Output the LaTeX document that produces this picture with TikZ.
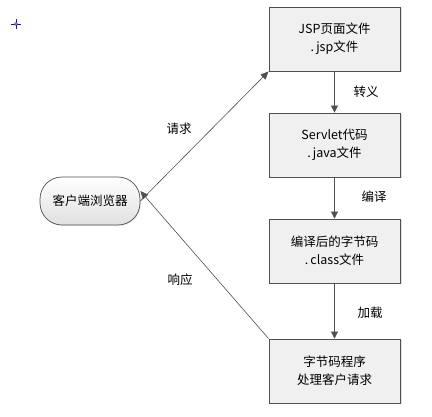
\documentclass[tikz,border=0pt]{standalone}
\usepackage{fontspec}
\setmainfont{Noto Sans CJK SC}
\usetikzlibrary{arrows.meta,shadows}
\definecolor{edge}{HTML}{505050}
\definecolor{boxfill}{HTML}{F0F0F0}
\definecolor{crossblue}{HTML}{1A1A80}
\begin{document}
\begin{tikzpicture}[x=1pt,y=-1pt,
  font=\fontsize{12.5}{18}\selectfont,
  procbox/.style={draw=edge, line width=0.9pt, fill=boxfill, minimum width=131pt, minimum height=64pt, align=center, inner sep=0pt,
    drop shadow={shadow xshift=1.5pt, shadow yshift=-1.5pt, fill=black!25, opacity=0.5}},
  startnode/.style={draw=edge, line width=0.7pt, rounded corners=22pt, top color=white, bottom color=black!12, minimum width=100pt, minimum height=48pt, inner sep=0pt,
    drop shadow={shadow xshift=1pt, shadow yshift=-1pt, fill=black!20, opacity=0.4}},
  flow/.style={draw=edge, line width=0.9pt, -{Triangle[length=7pt,width=7pt]}},
  thinflow/.style={draw=edge, line width=0.6pt, -{Triangle[length=8pt,width=7pt]}},
  lbl/.style={inner sep=0pt}]
\useasboundingbox (0,0) rectangle (432,417);
\fill[white] (0,0) rectangle (432,417);
% crosshair mark
\coordinate (cross) at (16,24);
\draw[crossblue, line width=0.7pt] ([xshift=-5pt]cross) -- ([xshift=5pt]cross) ([yshift=-5pt]cross) -- ([yshift=5pt]cross);
\draw[crossblue, fill=white, line width=0.6pt] (cross) circle (1.5pt);
% nodes
\node[procbox] (jsp) at (334.5,39) {JSP页面文件\\.\,jsp文件};
\node[procbox] (servlet) at (334.5,145) {Servlet代码\\.\,java文件};
\node[procbox] (cls) at (334.5,251) {编译后的字节码\\.\,class文件};
\node[procbox] (run) at (334.5,371) {字节码程序\\处理客户请求};
\node[startnode] (browser) at (90,201) {客户端浏览器};
% connectors
\draw[flow] (jsp) -- (servlet);
\draw[flow] (servlet) -- (cls);
\draw[flow] (cls) -- (run);
\draw[thinflow] (browser.east) -- (jsp.south west);
\draw[thinflow] (run.north west) -- ([yshift=10pt]browser.east);
% labels
\node[lbl] (l1) at (179,129) {请求};
\node[lbl] (l2) at (180,280) {响应};
\node[lbl] (l3) at (366,92) {转义};
\node[lbl] (l4) at (374,197) {编译};
\node[lbl] (l5) at (370,313) {加载};
\end{tikzpicture}
\end{document}
